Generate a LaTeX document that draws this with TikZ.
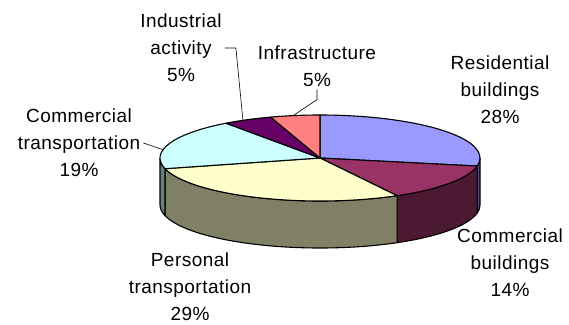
\documentclass[tikz,border=0pt]{standalone}
\usepackage{fontspec}
\setmainfont{Liberation Sans}[LetterSpace=2.5]
\definecolor{resT}{HTML}{9999FF}
\definecolor{resS}{HTML}{4D4D80}
\definecolor{cbT}{HTML}{993366}
\definecolor{cbS}{HTML}{4C1933}
\definecolor{ptT}{HTML}{FFFFCC}
\definecolor{ptS}{HTML}{808066}
\definecolor{ctT}{HTML}{CCFFFF}
\definecolor{ctS}{HTML}{668080}
\definecolor{indT}{HTML}{660066}
\definecolor{infT}{HTML}{FF8080}
\tikzset{
  lbl/.style={align=center,inner sep=3pt,font=\fontsize{19}{27}\selectfont},
  slice/.style={draw=black,line width=1.1pt,line join=round},
  leader/.style={draw=black,line width=0.6pt}
}
\newcommand{\topslice}[3]{%
  \path[slice,fill=#3] (0,0) -- (#1:160pt and 43pt)
    arc[start angle=#1,end angle=#2,x radius=160pt,y radius=43pt] -- cycle;}
\newcommand{\sideslice}[3]{%
  \path[slice,fill=#3] (#1:160pt and 43pt)
    arc[start angle=#1,end angle=#2,x radius=160pt,y radius=43pt]
    -- ++(0,-47pt)
    arc[start angle=#2,end angle=#1,x radius=160pt,y radius=43pt] -- cycle;}
\begin{document}
\begin{tikzpicture}[x=1pt,y=1pt]
\useasboundingbox[fill=white] (0,0) rectangle (569,-324);
\begin{scope}[shift={(320,-158)}]
  \sideslice{0}{-10.8}{resS}
  \sideslice{-10.8}{-61.2}{cbS}
  \sideslice{-61.2}{-165.6}{ptS}
  \sideslice{-165.6}{-180}{ctS}
  \topslice{90}{-10.8}{resT}
  \topslice{-10.8}{-61.2}{cbT}
  \topslice{-61.2}{-165.6}{ptT}
  \topslice{-165.6}{-234}{ctT}
  \topslice{-234}{-252}{indT}
  \topslice{-252}{-270}{infT}
  \coordinate (pInd) at (118.8:160pt and 43pt);
  \coordinate (pInf) at (99.7:160pt and 43pt);
  \coordinate (pCT) at (168.8:160pt and 43pt);
\end{scope}
\node[lbl] (res) at (500,-90) {Residential\\buildings\\28\%};
\node[lbl] (cb) at (510,-263) {Commercial\\buildings\\14\%};
\node[lbl] (pt) at (190,-287) {Personal\\transportation\\29\%};
\node[lbl] (ct) at (79,-143) {Commercial\\transportation\\19\%};
\node[lbl] (ind) at (181,-48) {Industrial\\activity\\5\%};
\node[lbl] (inf) at (317,-66) {Infrastructure\\5\%};
\draw[leader] (ind.east) -- ++(11,0) -- (pInd);
\draw[leader] (inf.south) -- ++(0,-10) -- (pInf);
\draw[leader] (ct.east) -- (pCT);
\end{tikzpicture}
\end{document}
